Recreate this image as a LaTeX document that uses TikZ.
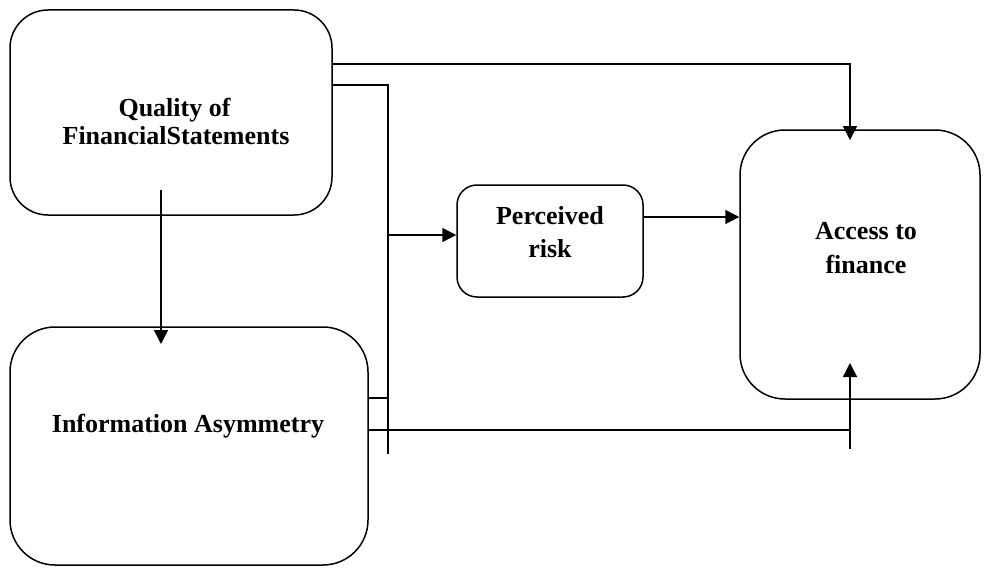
\documentclass[tikz,border=0pt]{standalone}
\usepackage{fontspec}
\setmainfont{Liberation Serif}
\usetikzlibrary{arrows.meta}
\begin{document}
\begin{tikzpicture}[x=1pt,y=-1pt,
  box/.style={draw,line width=1.5pt,inner sep=0pt},
  lbl/.style={anchor=base,inner sep=0pt,font=\bfseries\fontsize{26}{30}\selectfont},
  con/.style={line width=1.5pt},
  arr/.style={con,-{Triangle[length=14pt,width=14pt]}}]
\useasboundingbox (0,0) rectangle (984,567);
\node[box,rounded corners=38pt,minimum width=322pt,minimum height=205pt] (Q) at (171,112.5) {};
\node[box,rounded corners=45pt,minimum width=358pt,minimum height=238pt] (I) at (189,446) {};
\node[box,rounded corners=20pt,minimum width=186pt,minimum height=112pt] (P) at (550,241) {};
\node[box,rounded corners=45pt,minimum width=240pt,minimum height=269pt] (A) at (860,264.5) {};
\node[lbl] (q1t) at (174.5,117) {Quality of};
\node[lbl] (q2t) at (176,144) {FinancialStatements};
\node[lbl] (it) at (188,432) {Information Asymmetry};
\node[lbl] (p1t) at (550,224) {Perceived};
\node[lbl] (p2t) at (550,257) {risk};
\node[lbl] (a1t) at (866,239) {Access to};
\node[lbl] (a2t) at (866,273) {finance};
\coordinate (q1) at (Q.east |- 0,64);
\coordinate (t1) at (850,140);
\draw[arr] (q1) -| (t1);
\coordinate (q2) at (Q.east |- 0,85);
\coordinate (v2) at (388,454);
\draw[con] (q2) -| (v2);
\coordinate (pr) at (388,235);
\draw[arr] (pr) -- (P.west |- pr);
\draw[arr] (P.east |- 0,217) -- (A.west |- 0,217);
\coordinate (i1) at (I.east |- 0,398);
\draw[con] (i1) -- (388,398);
\coordinate (i2) at (I.east |- 0,430);
\coordinate (i2e) at (850,430);
\draw[con] (i2) -- (i2e);
\coordinate (ab) at (850,449);
\coordinate (at) at (850,363);
\draw[arr] (ab) -- (at);
\coordinate (qb) at (161,190);
\coordinate (itop) at (161,344);
\draw[arr] (qb) -- (itop);
\end{tikzpicture}
\end{document}
